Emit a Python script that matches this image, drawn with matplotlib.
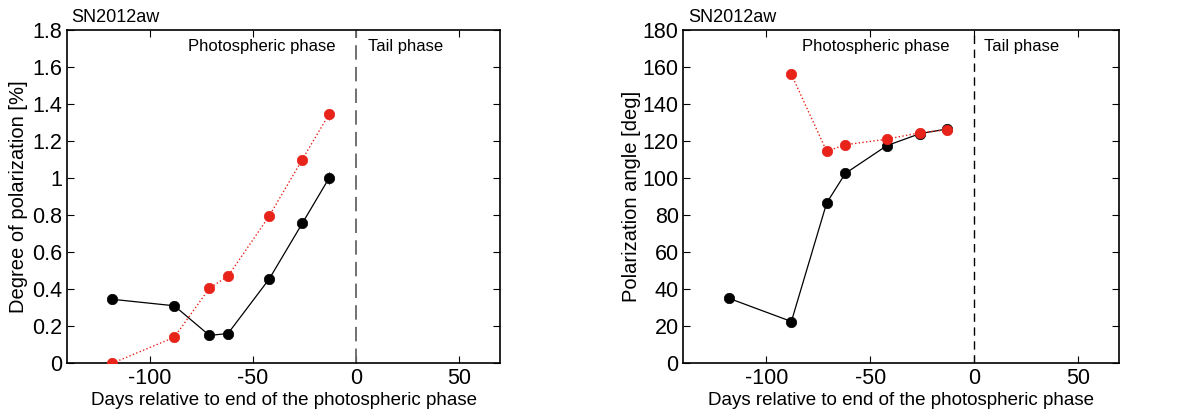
import matplotlib
matplotlib.use("Agg")
import matplotlib.pyplot as plt

plt.rcParams['font.family'] = ['Liberation Sans', 'DejaVu Sans']
plt.rcParams['axes.unicode_minus'] = False

# days relative to end of photospheric phase
days = [-118, -88, -71, -62, -42, -26, -13]

# degree of polarization [%]
pol_black = [0.345, 0.31, 0.15, 0.16, 0.455, 0.755, 1.0]
pol_black_err = [0.01, 0.01, 0.01, 0.01, 0.01, 0.01, 0.03]
pol_red = [0.0, 0.14, 0.405, 0.47, 0.795, 1.10, 1.345]
pol_red_err = [0.01, 0.01, 0.01, 0.01, 0.01, 0.01, 0.03]

# polarization angle [deg]
ang_black = [35, 22.5, 86.5, 102.5, 117.5, 124, 126.5]
days_red_ang = [-88, -71, -62, -42, -26, -13]
ang_red = [156, 114.5, 118, 121, 124.5, 126]

red = '#e8231a'

fig = plt.figure(figsize=(11.97, 4.16), dpi=100)
ax1 = fig.add_axes([0.056, 0.127, 0.362, 0.801])
ax2 = fig.add_axes([0.571, 0.127, 0.364, 0.801])


def style(ax):
    ax.set_xlim(-140, 70)
    ax.set_xticks([-100, -50, 0, 50])
    ax.tick_params(direction='in', top=True, right=True, labelsize=15.5, length=5, width=0.8)
    for s in ax.spines.values():
        s.set_linewidth(1.2)
    ax.set_xlabel('Days relative to end of the photospheric phase', fontsize=13.5, labelpad=2)


# left panel
ax1.errorbar(days, pol_black, yerr=pol_black_err, color='black', lw=0.9, marker='o',
             ms=7.5, mew=0.5, ecolor='black', elinewidth=0.8, zorder=3)
ax1.errorbar(days, pol_red, yerr=pol_red_err, color=red, lw=1.0, ls=':', marker='o',
             ms=7.5, mew=0.5, ecolor=red, elinewidth=0.8, zorder=4)
ax1.axvline(0, color='#666666', ls=(0, (8, 4)), lw=1.3)
ax1.set_ylim(0, 1.8)
ax1.set_yticks([0, 0.2, 0.4, 0.6, 0.8, 1.0, 1.2, 1.4, 1.6, 1.8])
ax1.set_yticklabels(['0', '0.2', '0.4', '0.6', '0.8', '1', '1.2', '1.4', '1.6', '1.8'])
ax1.set_ylabel('Degree of polarization [%]', fontsize=14.5, labelpad=3)
style(ax1)
ax1.text(-10, 1.71, 'Photospheric phase', ha='right', va='center', fontsize=12)
ax1.text(6, 1.71, 'Tail phase', ha='left', va='center', fontsize=12)
ax1.text(0.01, 1.012, 'SN2012aw', transform=ax1.transAxes, ha='left', va='bottom', fontsize=13)

# right panel
ax2.plot(days, ang_black, color='black', lw=0.9, marker='o', ms=7.5, mew=0.5, zorder=3)
ax2.plot(days_red_ang, ang_red, color=red, lw=1.0, ls=':', marker='o', ms=7.5, mew=0.5, zorder=4)
ax2.axvline(0, color='black', ls=(0, (6, 4)), lw=1.0)
ax2.set_ylim(0, 180)
ax2.set_yticks(range(0, 181, 20))
ax2.set_ylabel('Polarization angle [deg]', fontsize=14.5, labelpad=1)
style(ax2)
ax2.text(-12, 171, 'Photospheric phase', ha='right', va='center', fontsize=12)
ax2.text(5, 171, 'Tail phase', ha='left', va='center', fontsize=12)
ax2.text(0.01, 1.012, 'SN2012aw', transform=ax2.transAxes, ha='left', va='bottom', fontsize=13)

fig.savefig('out.png', dpi=100)
